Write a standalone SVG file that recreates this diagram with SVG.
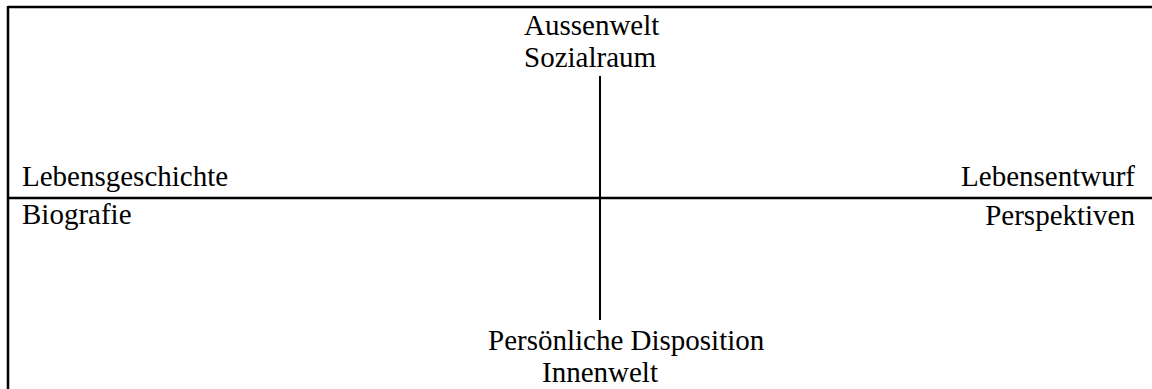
<svg xmlns="http://www.w3.org/2000/svg" width="1152" height="389" viewBox="0 0 1152 389">
<style>
text{font-family:"Liberation Serif","Times New Roman",serif;font-size:29px;fill:#000}
.ln{stroke:#000;fill:none}
</style>
<rect width="1152" height="389" fill="#fff"/>
<g id="frame">
<line class="ln" x1="8" y1="7" x2="1152" y2="7" stroke-width="2.5"/>
<line class="ln" x1="8" y1="6" x2="8" y2="389" stroke-width="2.5"/>
</g>
<g id="connectors">
<line class="ln" x1="8" y1="198" x2="1152" y2="198" stroke-width="2.5"/>
<line class="ln" x1="600" y1="76" x2="600" y2="320" stroke-width="2"/>
</g>
<g id="top"><text x="524" y="35">Aussenwelt</text><text x="524" y="67">Sozialraum</text></g>
<g id="left"><text x="22" y="186">Lebensgeschichte</text><text x="22" y="224">Biografie</text></g>
<g id="right"><text x="1135" y="186" text-anchor="end">Lebensentwurf</text><text x="1135" y="225" text-anchor="end">Perspektiven</text></g>
<g id="bottom"><text x="488" y="350">Persönliche Disposition</text><text x="542" y="382">Innenwelt</text></g>
</svg>
